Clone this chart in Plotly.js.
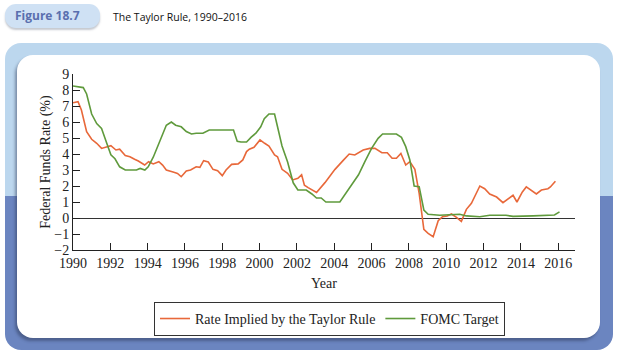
<!DOCTYPE html>
<html>
<head>
<meta charset="utf-8">
<script src="https://cdn.plot.ly/plotly-3.0.1.min.js"></script>
<style>
  html, body { margin: 0; padding: 0; background: #ffffff; }
  #wrap { position: relative; width: 631px; height: 357px; overflow: hidden; }
  #pill { position: absolute; left: 5px; top: 4px; width: 95px; height: 24px; border-radius: 11px;
          background: #cfe1f4; box-shadow: 0 2px 2px rgba(90,100,120,0.35); }
  #outer { position: absolute; left: 5px; top: 43px; width: 608px; height: 307px; border-radius: 16px;
           background: linear-gradient(to bottom, #bcd7ee 0px, #bcd7ee 153px, #6b85c0 153px, #6b85c0 100%); }
  #inner { position: absolute; left: 17px; top: 55px; width: 583px; height: 283px; border-radius: 16px;
           background: #ffffff; box-shadow: -2px 3px 3px rgba(40,50,80,0.45); }
  #chart { position: absolute; left: 0; top: 0; width: 631px; height: 357px; }
</style>
</head>
<body>
<div id="wrap">
  <div id="pill"></div>
  <div id="outer"></div>
  <div id="inner"></div>
  <div id="chart"></div>
</div>
<script>
// Rate implied by the Taylor Rule
const taylorYears = [1990.0,1990.27,1990.45,1990.73,1991.0,1991.27,1991.53,1991.8,1992.03,1992.3,1992.5,1992.8,1993.05,1993.3,1993.5,1993.84,1994.05,1994.3,1994.6,1994.8,1995.0,1995.36,1995.6,1995.8,1996.07,1996.3,1996.6,1996.8,1997.0,1997.25,1997.5,1997.75,1998.0,1998.2,1998.5,1998.85,1999.1,1999.3,1999.45,1999.7,2000.02,2000.27,2000.5,2000.8,2000.96,2001.2,2001.5,2001.77,2002.05,2002.25,2002.4,2002.6,2002.85,2003.05,2003.5,2003.77,2004.04,2004.48,2004.8,2005.1,2005.55,2005.9,2006.18,2006.55,2006.84,2007.1,2007.33,2007.57,2007.83,2008.05,2008.32,2008.55,2008.8,2009.03,2009.3,2009.57,2009.8,2010.05,2010.28,2010.55,2010.81,2011.08,2011.35,2011.8,2012.06,2012.33,2012.7,2013.04,2013.3,2013.58,2013.79,2014.08,2014.29,2014.56,2014.83,2015.1,2015.45,2015.58,2015.85];
const taylorRate = [7.2,7.27,6.75,5.4,4.92,4.67,4.35,4.42,4.52,4.25,4.3,3.9,3.83,3.67,3.56,3.31,3.52,3.38,3.52,3.31,3.0,2.87,2.79,2.58,2.94,3.0,3.2,3.17,3.58,3.5,3.04,2.96,2.65,3.0,3.35,3.38,3.63,4.15,4.3,4.42,4.88,4.67,4.5,3.94,3.83,3.04,2.79,2.38,2.48,2.7,2.05,1.9,1.75,1.6,2.21,2.65,3.04,3.6,4.0,3.94,4.25,4.35,4.35,4.08,4.08,3.73,3.73,4.04,3.31,3.52,3.04,1.54,-0.71,-0.96,-1.17,-0.17,0.08,0.13,0.25,0.04,-0.21,0.54,0.92,2.0,1.83,1.5,1.31,0.96,1.21,1.42,1.0,1.63,1.94,1.73,1.5,1.75,1.83,1.94,2.3];

// FOMC target
const fomcYears = [1990.0,1990.4,1990.55,1990.73,1991.0,1991.27,1991.53,1991.8,1992.03,1992.25,1992.5,1992.8,1993.4,1993.6,1993.85,1994.03,1994.3,1994.65,1995.0,1995.27,1995.5,1995.8,1996.07,1996.35,1996.6,1996.96,1997.3,1998.6,1998.8,1999.0,1999.3,1999.55,1999.8,2000.06,2000.25,2000.5,2000.8,2000.96,2001.2,2001.5,2001.8,2002.05,2002.5,2002.8,2003.05,2003.3,2003.55,2004.3,2004.55,2004.93,2005.3,2005.64,2006.0,2006.35,2006.59,2007.33,2007.6,2007.83,2008.05,2008.28,2008.55,2008.8,2009.03,2009.65,2010.72,2011.08,2011.8,2012.33,2013.2,2013.58,2014.3,2014.65,2015.8,2016.07];
const fomcRate = [8.25,8.2,8.15,7.75,6.5,5.9,5.6,4.7,3.95,3.7,3.2,3.0,3.0,3.1,3.0,3.2,3.8,4.8,5.8,6.0,5.8,5.7,5.4,5.25,5.3,5.3,5.5,5.5,4.8,4.75,4.75,5.05,5.3,5.7,6.2,6.5,6.5,5.7,4.5,3.5,2.2,1.75,1.75,1.5,1.25,1.25,1.0,1.0,1.44,2.06,2.7,3.52,4.35,4.98,5.25,5.25,5.04,4.46,3.63,2.0,1.96,0.5,0.23,0.17,0.23,0.13,0.08,0.17,0.17,0.1,0.1,0.13,0.19,0.38];

const seriesNames = ["Rate Implied by the Taylor Rule", "FOMC Target"];
const xTickVals = [1990,1992,1994,1996,1998,2000,2002,2004,2006,2008,2010,2012,2014,2016];
const yTickVals = [-2,-1,0,1,2,3,4,5,6,7,8,9];

const serif = "'Liberation Serif', 'Times New Roman', serif";
const sans = "'Open Sans', 'Noto Sans', sans-serif";

const traces = [
  { x: taylorYears, y: taylorRate, name: seriesNames[0], type: 'scatter', mode: 'lines',
    line: { color: '#e8683a', width: 1.6 } },
  { x: fomcYears, y: fomcRate, name: seriesNames[1], type: 'scatter', mode: 'lines',
    line: { color: '#5f9a3c', width: 1.6 } }
];

const layout = {
  width: 631, height: 357,
  margin: { l: 73, r: 56, t: 74, b: 107 },
  paper_bgcolor: 'rgba(0,0,0,0)',
  plot_bgcolor: 'rgba(0,0,0,0)',
  showlegend: true,
  title: { text: 'The Taylor Rule, 1990–2016', font: { family: sans, size: 10.5, color: '#111' },
           x: 113/631, xanchor: 'left', xref: 'container', y: 1 - 17/357, yanchor: 'middle', yref: 'container' },
  xaxis: {
    range: [1990, 2016.9], tickvals: xTickVals, ticktext: xTickVals.map(String),
    ticks: 'inside', ticklen: 7, tickcolor: '#222', tickwidth: 1,
    showline: true, linecolor: '#222', linewidth: 1, showgrid: false, zeroline: false,
    tickfont: { family: serif, size: 14, color: '#222' },
    title: { text: 'Year', font: { family: serif, size: 14, color: '#222' }, standoff: 8 }
  },
  yaxis: {
    range: [-2, 9], tickvals: yTickVals,
    ticks: 'inside', ticklen: 7, tickcolor: '#222', tickwidth: 1,
    showline: true, linecolor: '#222', linewidth: 1, showgrid: false,
    zeroline: true, zerolinecolor: '#333', zerolinewidth: 1,
    tickfont: { family: serif, size: 14, color: '#222' },
    title: { text: 'Federal Funds Rate (%)', font: { family: serif, size: 14, color: '#222' }, standoff: 0 }
  },
  legend: {
    orientation: 'h', x: 0.511, xanchor: 'center', y: -0.295, yanchor: 'top',
    bordercolor: '#333', borderwidth: 1, bgcolor: 'rgba(0,0,0,0)',
    font: { family: serif, size: 14, color: '#222' }
  },
  annotations: [
    { text: '<b>Figure 18.7</b>', xref: 'paper', yref: 'paper', x: (47-73)/502, y: (250-16)/176,
      xanchor: 'center', yanchor: 'middle', showarrow: false,
      font: { family: sans, size: 12, color: '#5a6fae' } }
  ]
};

Plotly.newPlot('chart', traces, layout, { displayModeBar: false, staticPlot: true });
</script>
</body>
</html>
